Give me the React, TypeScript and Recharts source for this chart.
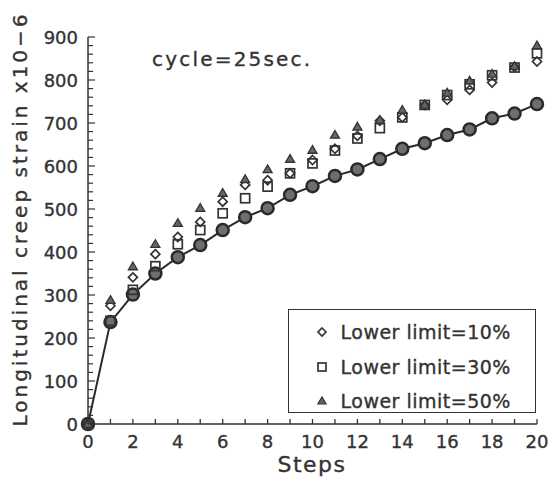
import React from 'react';
import { ComposedChart, Line, XAxis, YAxis, Legend } from 'recharts';

const steps = [0, 1, 2, 3, 4, 5, 6, 7, 8, 9, 10, 11, 12, 13, 14, 15, 16, 17, 18, 19, 20];
const baseline = [0, 237, 301, 350, 388, 416, 451, 481, 502, 533, 553, 577, 592, 616, 640, 653, 672, 685, 711, 722, 744];
const limit10 = [0, 275, 341, 395, 435, 470, 517, 556, 567, 583, 614, 640, 670, 705, 713, 742, 754, 777, 794, 830, 843];
const limit30 = [0, 240, 312, 367, 418, 451, 490, 525, 552, 583, 606, 636, 664, 688, 713, 742, 765, 790, 811, 829, 862];
const limit50 = [0, 288, 366, 418, 467, 502, 537, 569, 592, 616, 637, 672, 691, 707, 730, 742, 770, 798, 814, 832, 880];
const seriesNames = ['Lower limit=10%', 'Lower limit=30%', 'Lower limit=50%'];
const xTicks = [0, 1, 2, 3, 4, 5, 6, 7, 8, 9, 10, 11, 12, 13, 14, 15, 16, 17, 18, 19, 20];
const yMajorTicks = [0, 100, 200, 300, 400, 500, 600, 700, 800, 900];
const yMinorPerMajor = 5;
const titleText = 'cycle=25sec.';
const xLabel = 'Steps';
const yLabel = 'Longitudinal creep strain x10\u22126';

const data = steps.map((s, i) => ({
  step: s,
  base: baseline[i],
  l10: limit10[i],
  l30: limit30[i],
  l50: limit50[i],
}));

const yTicks: number[] = [];
for (let i = 0; i < yMajorTicks.length - 1; i++) {
  const a = yMajorTicks[i];
  const b = yMajorTicks[i + 1];
  for (let k = 0; k < yMinorPerMajor; k++) yTicks.push(a + ((b - a) * k) / yMinorPerMajor);
}
yTicks.push(yMajorTicks[yMajorTicks.length - 1]);

const INK = '#333';
const FONT = '"DejaVu Sans", sans-serif';
const TEXT_STROKE = 0.35;

const CircleDot = (p: any) => {
  if (p.cx == null || p.cy == null) return null;
  return <circle key={p.key} cx={p.cx} cy={p.cy} r={6} fill="#6e6e6e" stroke="#2a2a2a" strokeWidth={2.5} />;
};
const DiamondShape = ({ cx, cy, s = 4.5 }: any) => (
  <path d={`M${cx},${cy - s} L${cx + s},${cy} L${cx},${cy + s} L${cx - s},${cy} Z`} fill="none" stroke={INK} strokeWidth={1.7} />
);
const SquareShape = ({ cx, cy, s = 4.5 }: any) => (
  <rect x={cx - s} y={cy - s} width={2 * s} height={2 * s} fill="none" stroke={INK} strokeWidth={1.7} />
);
const TriangleShape = ({ cx, cy, s = 4.5 }: any) => (
  <path d={`M${cx},${cy - s} L${cx + s},${cy + s * 0.7} L${cx - s},${cy + s * 0.7} Z`} fill="#666" stroke={INK} strokeWidth={1.3} />
);
const DiamondDot = (p: any) => (p.cx == null ? null : <DiamondShape key={p.key} cx={p.cx} cy={p.cy} />);
const SquareDot = (p: any) => (p.cx == null ? null : <SquareShape key={p.key} cx={p.cx} cy={p.cy} />);
const TriangleDot = (p: any) => (p.cx == null ? null : <TriangleShape key={p.key} cx={p.cx} cy={p.cy} />);

const symbolFor: Record<string, any> = { l10: DiamondShape, l30: SquareShape, l50: TriangleShape };

const XTick = (p: any) => {
  const { x, y, payload } = p;
  const v = payload.value;
  return (
    <g>
      <line x1={x} x2={x} y1={y} y2={y - 5} stroke={INK} strokeWidth={1.3} />
      {v % 2 === 0 ? (
        <text x={x} y={y + 24} textAnchor="middle" fill={INK} stroke={INK} strokeWidth={TEXT_STROKE} fontSize={18} fontFamily={FONT}>
          {v}
        </text>
      ) : null}
    </g>
  );
};

const YTick = (p: any) => {
  const { x, y, payload } = p;
  const v = payload.value;
  const major = v % 100 === 0;
  return (
    <g>
      <line x1={x} x2={x + (major ? 7 : 5)} y1={y} y2={y} stroke={INK} strokeWidth={1.2} />
      {major ? (
        <text x={x - 10} y={y + 6.5} textAnchor="end" fill={INK} stroke={INK} strokeWidth={TEXT_STROKE} fontSize={18} fontFamily={FONT}>
          {v}
        </text>
      ) : null}
    </g>
  );
};

const LegendBox = (props: any) => {
  const payload = (props.payload || []).filter((e: any) => symbolFor[e.dataKey]);
  return (
    <div
      style={{
        width: 248,
        height: 104,
        boxSizing: 'border-box',
        border: `1.5px solid ${INK}`,
        paddingTop: 5,
        background: 'white',
      }}
    >
      {payload.map((e: any) => {
        const Sym = symbolFor[e.dataKey];
        return (
          <div key={e.dataKey} style={{ display: 'flex', alignItems: 'center', height: 34.5 }}>
            <svg width={20} height={20} style={{ marginLeft: 22.5 }}>
              <Sym cx={10} cy={10} s={4} />
            </svg>
            <span
              style={{
                marginLeft: 9,
                fontFamily: FONT,
                fontSize: 19,
                letterSpacing: 0.5,
                color: INK,
                lineHeight: '20px',
                WebkitTextStroke: `${TEXT_STROKE}px ${INK}`,
              }}
            >
              {e.value}
            </span>
          </div>
        );
      })}
    </div>
  );
};

export default function App() {
  return (
    <div style={{ position: 'absolute', left: 0, top: 0, background: 'white' }}>
      <ComposedChart width={550} height={490} data={data} margin={{ top: 37, right: 13, left: 0, bottom: 0 }}>
        <XAxis
          dataKey="step"
          type="number"
          domain={[0, 20]}
          ticks={xTicks}
          interval={0}
          height={66}
          tickSize={0}
          tickMargin={0}
          tickLine={false}
          tick={<XTick />}
          axisLine={{ stroke: INK, strokeWidth: 1.5 }}
        />
        <YAxis
          type="number"
          domain={[0, 900]}
          ticks={yTicks}
          interval={0}
          width={88}
          tickSize={0}
          tickMargin={0}
          tickLine={false}
          tick={<YTick />}
          axisLine={{ stroke: INK, strokeWidth: 1.5 }}
        />
        <Line
          dataKey="base"
          stroke="#2a2a2a"
          strokeWidth={2}
          dot={<CircleDot />}
          legendType="none"
          isAnimationActive={false}
        />
        <Line dataKey="l10" name={seriesNames[0]} stroke="none" dot={<DiamondDot />} isAnimationActive={false} />
        <Line dataKey="l30" name={seriesNames[1]} stroke="none" dot={<SquareDot />} isAnimationActive={false} />
        <Line dataKey="l50" name={seriesNames[2]} stroke="none" dot={<TriangleDot />} isAnimationActive={false} />
        <Legend
          layout="vertical"
          align="center"
          verticalAlign="middle"
          content={<LegendBox />}
          wrapperStyle={{ left: 288, top: 309, width: 248, height: 104 }}
        />
        <text x={152} y={66} fill={INK} stroke={INK} strokeWidth={TEXT_STROKE} fontSize={20} fontFamily={FONT} letterSpacing={2.2}>
          {titleText}
        </text>
        <text x={312} y={472} textAnchor="middle" fill={INK} stroke={INK} strokeWidth={TEXT_STROKE} fontSize={22} fontFamily={FONT} letterSpacing={1.5}>
          {xLabel}
        </text>
        <text
          x={27}
          y={219}
          transform="rotate(-90 27 219)"
          textAnchor="middle"
          fill={INK}
          stroke={INK}
          strokeWidth={TEXT_STROKE}
          fontSize={20}
          fontFamily={FONT}
          letterSpacing={3}
        >
          {yLabel}
        </text>
      </ComposedChart>
    </div>
  );
}
